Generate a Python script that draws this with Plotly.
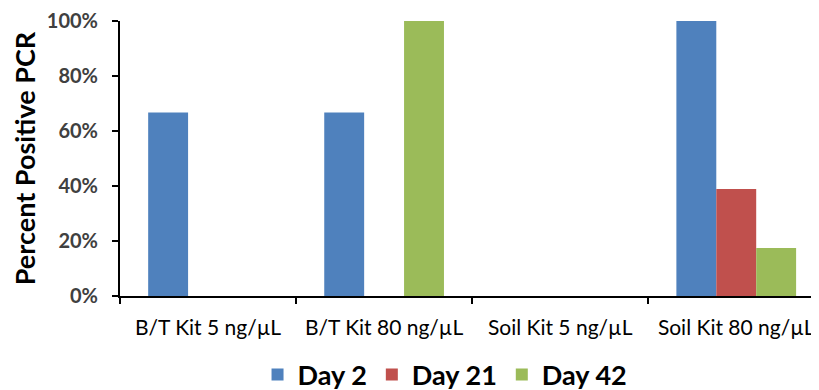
import plotly.graph_objects as go

categories = ["B/T Kit 5 ng/µL", "B/T Kit 80 ng/µL", "Soil Kit 5 ng/µL", "Soil Kit 80 ng/µL"]
day2 = [66.7, 66.7, 0, 100]
day21 = [0, 0, 0, 38.9]
day42 = [0, 100, 0, 17.5]
series_names = ["Day 2", "Day 21", "Day 42"]
colors = ["#4F81BD", "#C0504D", "#9BBB59"]
y_ticks = [0, 20, 40, 60, 80, 100]
y_tick_labels = ["0%", "20%", "40%", "60%", "80%", "100%"]

fig = go.Figure()
for name, vals, col in zip(series_names, [day2, day21, day42], colors):
    fig.add_trace(go.Bar(x=categories, y=vals, name=name, marker_color=col,
                         marker_line_width=0))

fig.update_layout(
    width=811, height=390,
    margin=dict(l=112, r=0, t=13, b=102, autoexpand=False),
    plot_bgcolor="white", paper_bgcolor="white",
    barmode="group", bargap=0.32, bargroupgap=0,
    font=dict(family="Lato, Open Sans, sans-serif", color="black"),
    legend=dict(orientation="h", x=0.465, xanchor="center", y=-0.287, yanchor="middle",
                font=dict(size=27, family="Lato", color="black", weight="bold"),
                itemwidth=30, tracegroupgap=0),
    yaxis=dict(range=[0, 100], tickvals=y_ticks, ticktext=y_tick_labels,
               automargin=False,
               showgrid=False, zeroline=False, showline=True, linecolor="black",
               linewidth=2, ticks="outside", ticklen=6, tickwidth=2, tickcolor="black",
               ticklabelstandoff=10,
               tickfont=dict(size=20, color="#404040", family="Lato", weight="bold"),
               title=dict(text="Percent Positive PCR",
                          font=dict(size=27, color="black", weight="bold"),
                          standoff=6)),
    xaxis=dict(range=[-0.5, 3.47], automargin=False, showgrid=False, showline=True,
               linecolor="black", linewidth=2, ticks="outside", tickson="boundaries",
               ticklen=6, tickwidth=2, tickcolor="black", ticklabelstandoff=12,
               tickfont=dict(size=21, color="black", family="Lato")),
)

fig.write_html("out.html")
